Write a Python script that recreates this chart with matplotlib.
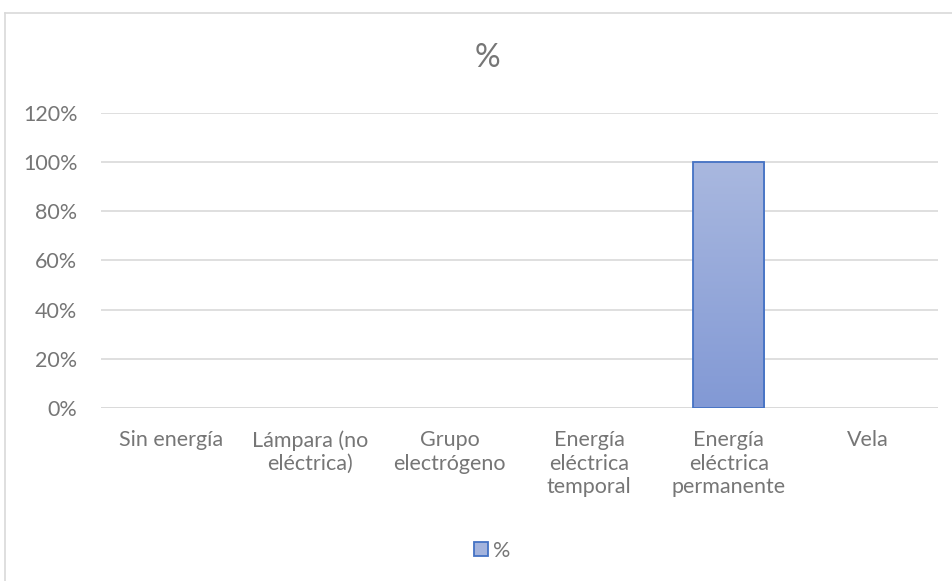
"""Gráfico de barras: fuente de energía en el hogar (%)."""

import matplotlib.pyplot as plt
import numpy as np
from matplotlib.colors import LinearSegmentedColormap
from matplotlib.lines import Line2D
from matplotlib.patches import Rectangle
from matplotlib.ticker import FuncFormatter, MultipleLocator

categories = [
    "Sin energía",
    "Lámpara (no\neléctrica)",
    "Grupo\nelectrógeno",
    "Energía\neléctrica\ntemporal",
    "Energía\neléctrica\npermanente",
    "Vela",
]
values = [0.0, 0.0, 0.0, 0.0, 1.0, 0.0]
series_name = "%"

TEXT = "#767676"
GRID = "#D9D9D9"
EDGE = "#4472C4"
TOP = "#A9B8DF"
BOTTOM = "#8299D5"
FS = 15.5

plt.rcParams["font.family"] = ["Lato", "DejaVu Sans"]

fig = plt.figure(figsize=(9.53, 5.81), dpi=100)
W, H = 953, 581
ax = fig.add_axes([101 / W, 1 - 408 / H, 837 / W, (408 - 113) / H])

x = np.arange(len(categories))
bars = ax.bar(x, values, width=0.51, color="none", edgecolor=EDGE,
              linewidth=1.3, zorder=3)

# degradado vertical dentro de cada barra; las barras en cero no se ven
cmap = LinearSegmentedColormap.from_list("grad", [BOTTOM, TOP])
grad = np.linspace(0, 1, 256).reshape(-1, 1)
for b in bars:
    if b.get_height() <= 0:
        b.set_visible(False)
        continue
    x0, y0 = b.get_x(), b.get_y()
    im = ax.imshow(grad, cmap=cmap, origin="lower", aspect="auto",
                   extent=(x0, x0 + b.get_width(), y0, y0 + b.get_height()),
                   zorder=2)
    im.set_clip_path(Rectangle((x0, y0), b.get_width(), b.get_height(),
                               transform=ax.transData))

ax.set_xlim(-0.5, len(categories) - 0.5)
ax.set_ylim(0, 1.2)
ax.yaxis.set_major_locator(MultipleLocator(0.2))
ax.yaxis.set_major_formatter(FuncFormatter(lambda v, _: f"{v * 100:.0f}%"))
ax.grid(axis="y", color=GRID, linewidth=1.2, zorder=0)
ax.set_axisbelow(True)
for s in ax.spines.values():
    s.set_visible(False)
ax.axhline(0, color=GRID, linewidth=1.2, zorder=1)

ax.set_xticks(x)
ax.set_xticklabels(categories, linespacing=1.22)
ax.tick_params(axis="both", length=0, labelsize=FS, labelcolor=TEXT)
ax.tick_params(axis="y", pad=17)
ax.tick_params(axis="x", pad=16)

fig.text(487 / W, 1 - 58 / H, "%", ha="center", va="center",
         fontsize=23, color=TEXT)

handle = Line2D([], [], linestyle="none", marker="s", markersize=10,
                markerfacecolor="#A3B3DD", markeredgecolor=EDGE,
                markeredgewidth=1.3)
fig.legend([handle], [series_name], loc="center",
           bbox_to_anchor=(491 / W, 1 - 551 / H), frameon=False,
           fontsize=FS, labelcolor=TEXT, handletextpad=0.15,
           handlelength=0.8)

# marco exterior del gráfico
fig.add_artist(Line2D([4.5 / W, 4.5 / W], [0, 1 - 13 / H], color=GRID,
                      linewidth=1.2, transform=fig.transFigure))
fig.add_artist(Line2D([4.5 / W, 1], [1 - 13 / H, 1 - 13 / H], color=GRID,
                      linewidth=1.2, transform=fig.transFigure))

fig.savefig("out.png", dpi=100)
